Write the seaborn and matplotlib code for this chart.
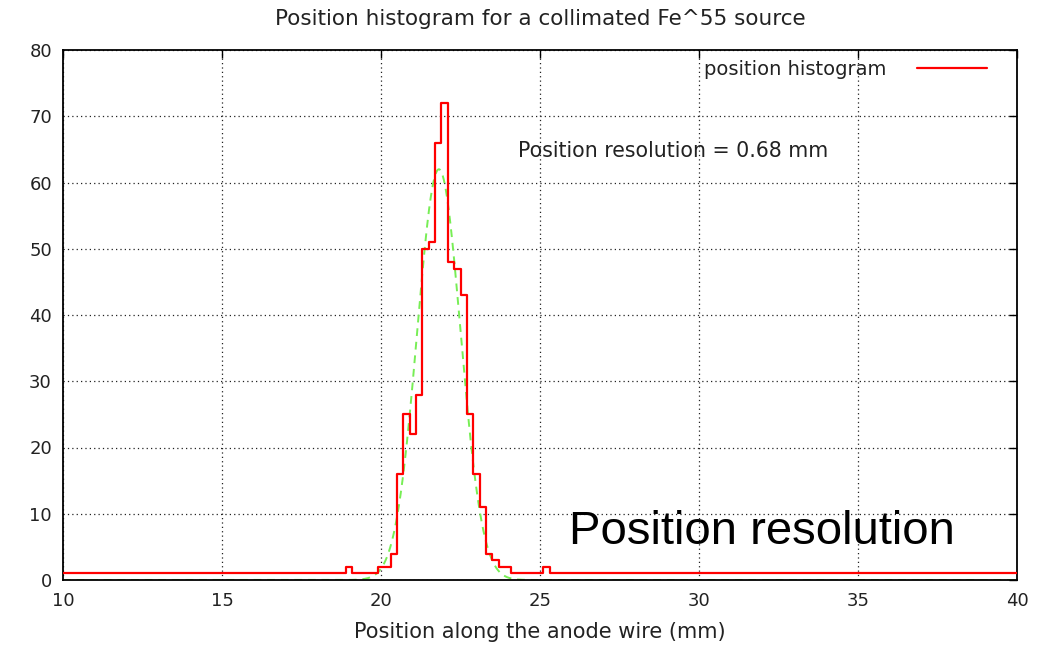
import numpy as np
import pandas as pd
import matplotlib
matplotlib.use("Agg")
import matplotlib.pyplot as plt
import seaborn as sns

# Histogram of reconstructed hit positions (0.2 mm bins, centres on even tenths)
bin_width = 0.2
x_min, x_max = 10.0, 40.0
baseline_count = 1  # level of the quiet bins on both sides of the peak

peak_centres = [19.0, 19.2, 19.4, 19.6, 19.8, 20.0, 20.2, 20.4, 20.6, 20.8,
                21.0, 21.2, 21.4, 21.6, 21.8, 22.0, 22.2, 22.4, 22.6, 22.8,
                23.0, 23.2, 23.4, 23.6, 23.8, 24.0, 24.2, 24.4, 24.6, 24.8,
                25.0, 25.2]
peak_counts = [2, 1, 1, 1, 1, 2, 2, 4, 16, 25,
               22, 28, 50, 51, 66, 72, 48, 47, 43, 25,
               16, 11, 4, 3, 2, 2, 1, 1, 1, 1,
               1, 2]

# Gaussian fit to the peak
fit_amplitude = 62.0
fit_mean = 21.82
fit_sigma = 0.68  # mm

title_text = "Position histogram for a collimated Fe^55 source"
xlabel_text = "Position along the anode wire (mm)"
legend_text = "position histogram"
resolution_text = f"Position resolution = {fit_sigma:.2f} mm"
overlay_text = "Position resolution"

x_ticks = [10, 15, 20, 25, 30, 35, 40]
y_ticks = [0, 10, 20, 30, 40, 50, 60, 70, 80]

# Full set of bins across the axis range
centres = np.round(np.arange(x_min, x_max + bin_width / 2, bin_width), 1)
counts = np.full(centres.shape, baseline_count, dtype=float)
lookup = dict(zip(peak_centres, peak_counts))
for i, c in enumerate(centres):
    if c in lookup:
        counts[i] = lookup[c]
hist_df = pd.DataFrame({"position": centres, "count": counts})

fit_x = np.linspace(x_min, x_max, 3001)
fit_y = fit_amplitude * np.exp(-(fit_x - fit_mean) ** 2 / (2 * fit_sigma ** 2))
fit_df = pd.DataFrame({"position": fit_x, "count": fit_y})

sns.set_theme(style="white")
plt.rcParams["font.family"] = ["DejaVu Sans"]

fig = plt.figure(figsize=(10.49, 6.47), dpi=100)
ax = fig.add_axes([63 / 1049, 1 - 580 / 647, 954 / 1049, 530 / 647])

sns.lineplot(data=fit_df, x="position", y="count", ax=ax, color="#77ee55",
             linewidth=1.4, dashes=False, linestyle=(0, (4, 3)), zorder=2,
             legend=False)
sns.lineplot(data=hist_df, x="position", y="count", ax=ax, color="#ff0000",
             linewidth=1.6, drawstyle="steps-mid", zorder=3,
             label=legend_text)

ax.set_xlim(x_min, x_max)
ax.set_ylim(0, 80)
ax.set_xticks(x_ticks)
ax.set_yticks(y_ticks)
ax.grid(True, color="#222222", linestyle=(0, (1, 2.5)), linewidth=0.9)
for s in ax.spines.values():
    s.set_color("black")
    s.set_linewidth(1.3)
ax.tick_params(axis="both", direction="in", length=6, width=1.0,
               top=True, right=True, labelsize=13, colors="black")
ax.tick_params(axis="x", pad=9)
ax.tick_params(axis="y", pad=8)
for lbl in ax.get_xticklabels() + ax.get_yticklabels():
    lbl.set_color("#222222")

ax.set_xlabel(xlabel_text, fontsize=15, color="#222222", labelpad=8)
ax.set_ylabel("")
ax.set_title(title_text, fontsize=15.5, color="#222222", pad=18)

ax.legend(loc="center right", bbox_to_anchor=(0.9686, 0.964), frameon=False,
          markerfirst=False, fontsize=14, handlelength=3.6,
          handletextpad=1.6, borderpad=0, borderaxespad=0,
          labelcolor="#222222")

ax.text(29.18, 64.8, resolution_text, ha="center", va="center",
        fontsize=14.8, color="#222222")
ax.text(31.97, 5.5, overlay_text, ha="center", va="baseline",
        fontsize=34, color="black", family=["Liberation Sans", "DejaVu Sans"])

fig.savefig("out.png", dpi=100)
